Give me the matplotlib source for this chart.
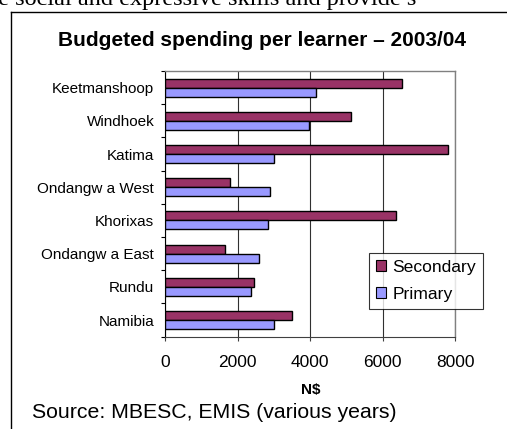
import matplotlib
matplotlib.use("Agg")
import matplotlib.pyplot as plt
from matplotlib.lines import Line2D
from matplotlib.patches import Patch

# Budgeted spending per learner, 2003/04 (N$)
regions = ["Keetmanshoop", "Windhoek", "Katima", "Ondangw a West",
           "Khorixas", "Ondangw a East", "Rundu", "Namibia"]
secondary = [6530, 5120, 7810, 1800, 6360, 1640, 2440, 3490]
primary = [4160, 3960, 3000, 2880, 2840, 2590, 2360, 3000]
x_ticks = [0, 2000, 4000, 6000, 8000]

SEC_COLOR = "#993366"
PRI_COLOR = "#9999FF"

W, H, DPI = 507, 429, 100
fig = plt.figure(figsize=(W / DPI, H / DPI), dpi=DPI)
plt.rcParams["font.family"] = ["Liberation Sans", "DejaVu Sans"]


def fx(px):
    return px / W


def fy(py):
    return 1 - py / H


# running text of the surrounding document, cut at the top edge
fig.text(fx(-14), fy(5.0), "be social and expressive skills and provide s",
         family=["Liberation Serif", "DejaVu Serif"], fontsize=17.5,
         ha="left", va="baseline")

# chart frame
fig.add_artist(Line2D([fx(11), fx(11)], [fy(12), fy(H + 5)], color="black", lw=1.0))
fig.add_artist(Line2D([fx(11), fx(W + 5)], [fy(12), fy(12)], color="black", lw=1.0))

ax = fig.add_axes([fx(165.3), fy(336.7), fx(455) - fx(165.3), fy(71) - fy(336.7)])

y = list(range(len(regions)))
bh = 0.27
ax.barh([v - bh / 2 for v in y], secondary, height=bh, color=SEC_COLOR,
        edgecolor="black", lw=1.0, zorder=3)
ax.barh([v + bh / 2 for v in y], primary, height=bh, color=PRI_COLOR,
        edgecolor="black", lw=1.0, zorder=3)

ax.set_xlim(0, 8000)
ax.set_ylim(len(regions) - 0.5, -0.5)

ax.set_xticks(x_ticks)
ax.set_xticklabels([str(t) for t in x_ticks], fontsize=12.5)
ax.tick_params(axis="x", direction="out", length=3, width=0.8, pad=10,
               color="#404040")

ax.set_yticks(y)
ax.set_yticklabels(regions, fontsize=11)
ax.set_yticks([v - 0.5 for v in range(len(regions) + 1)], minor=True)
ax.tick_params(axis="y", which="major", length=0, pad=8)
ax.tick_params(axis="y", which="minor", direction="out", length=3, width=0.8)

ax.xaxis.grid(True, color="#303030", lw=0.8, zorder=1)
ax.set_axisbelow(True)
for side in ("top", "right"):
    ax.spines[side].set_color("#808080")
    ax.spines[side].set_linewidth(1.0)
ax.spines["left"].set_color("black")
ax.spines["left"].set_linewidth(0.8)
ax.spines["bottom"].set_color("#404040")
ax.spines["bottom"].set_linewidth(0.8)

fig.text(fx(261.5), fy(40), "Budgeted spending per learner \u2013 2003/04",
         fontsize=15, fontweight="bold", ha="center", va="center")
fig.text(fx(311), fy(390), "N$", fontsize=11, fontweight="bold",
         ha="center", va="center")
fig.text(fx(32), fy(413), "Source: MBESC, EMIS (various years)",
         fontsize=15.3, ha="left", va="center")

handles = [Patch(facecolor=SEC_COLOR, edgecolor="black", lw=0.8),
           Patch(facecolor=PRI_COLOR, edgecolor="black", lw=0.8)]
leg = fig.legend(handles, ["Secondary", "Primary"], fontsize=12.6,
                 loc="upper left", bbox_to_anchor=(fx(369.3), fy(253.3)),
                 frameon=True, fancybox=False, shadow=False,
                 handlelength=0.55, handleheight=0.55, handletextpad=0.38,
                 labelspacing=0.68, borderpad=0.38, borderaxespad=0)
leg.get_frame().set_edgecolor("black")
leg.get_frame().set_linewidth(0.8)

fig.savefig("out.png", dpi=DPI)
